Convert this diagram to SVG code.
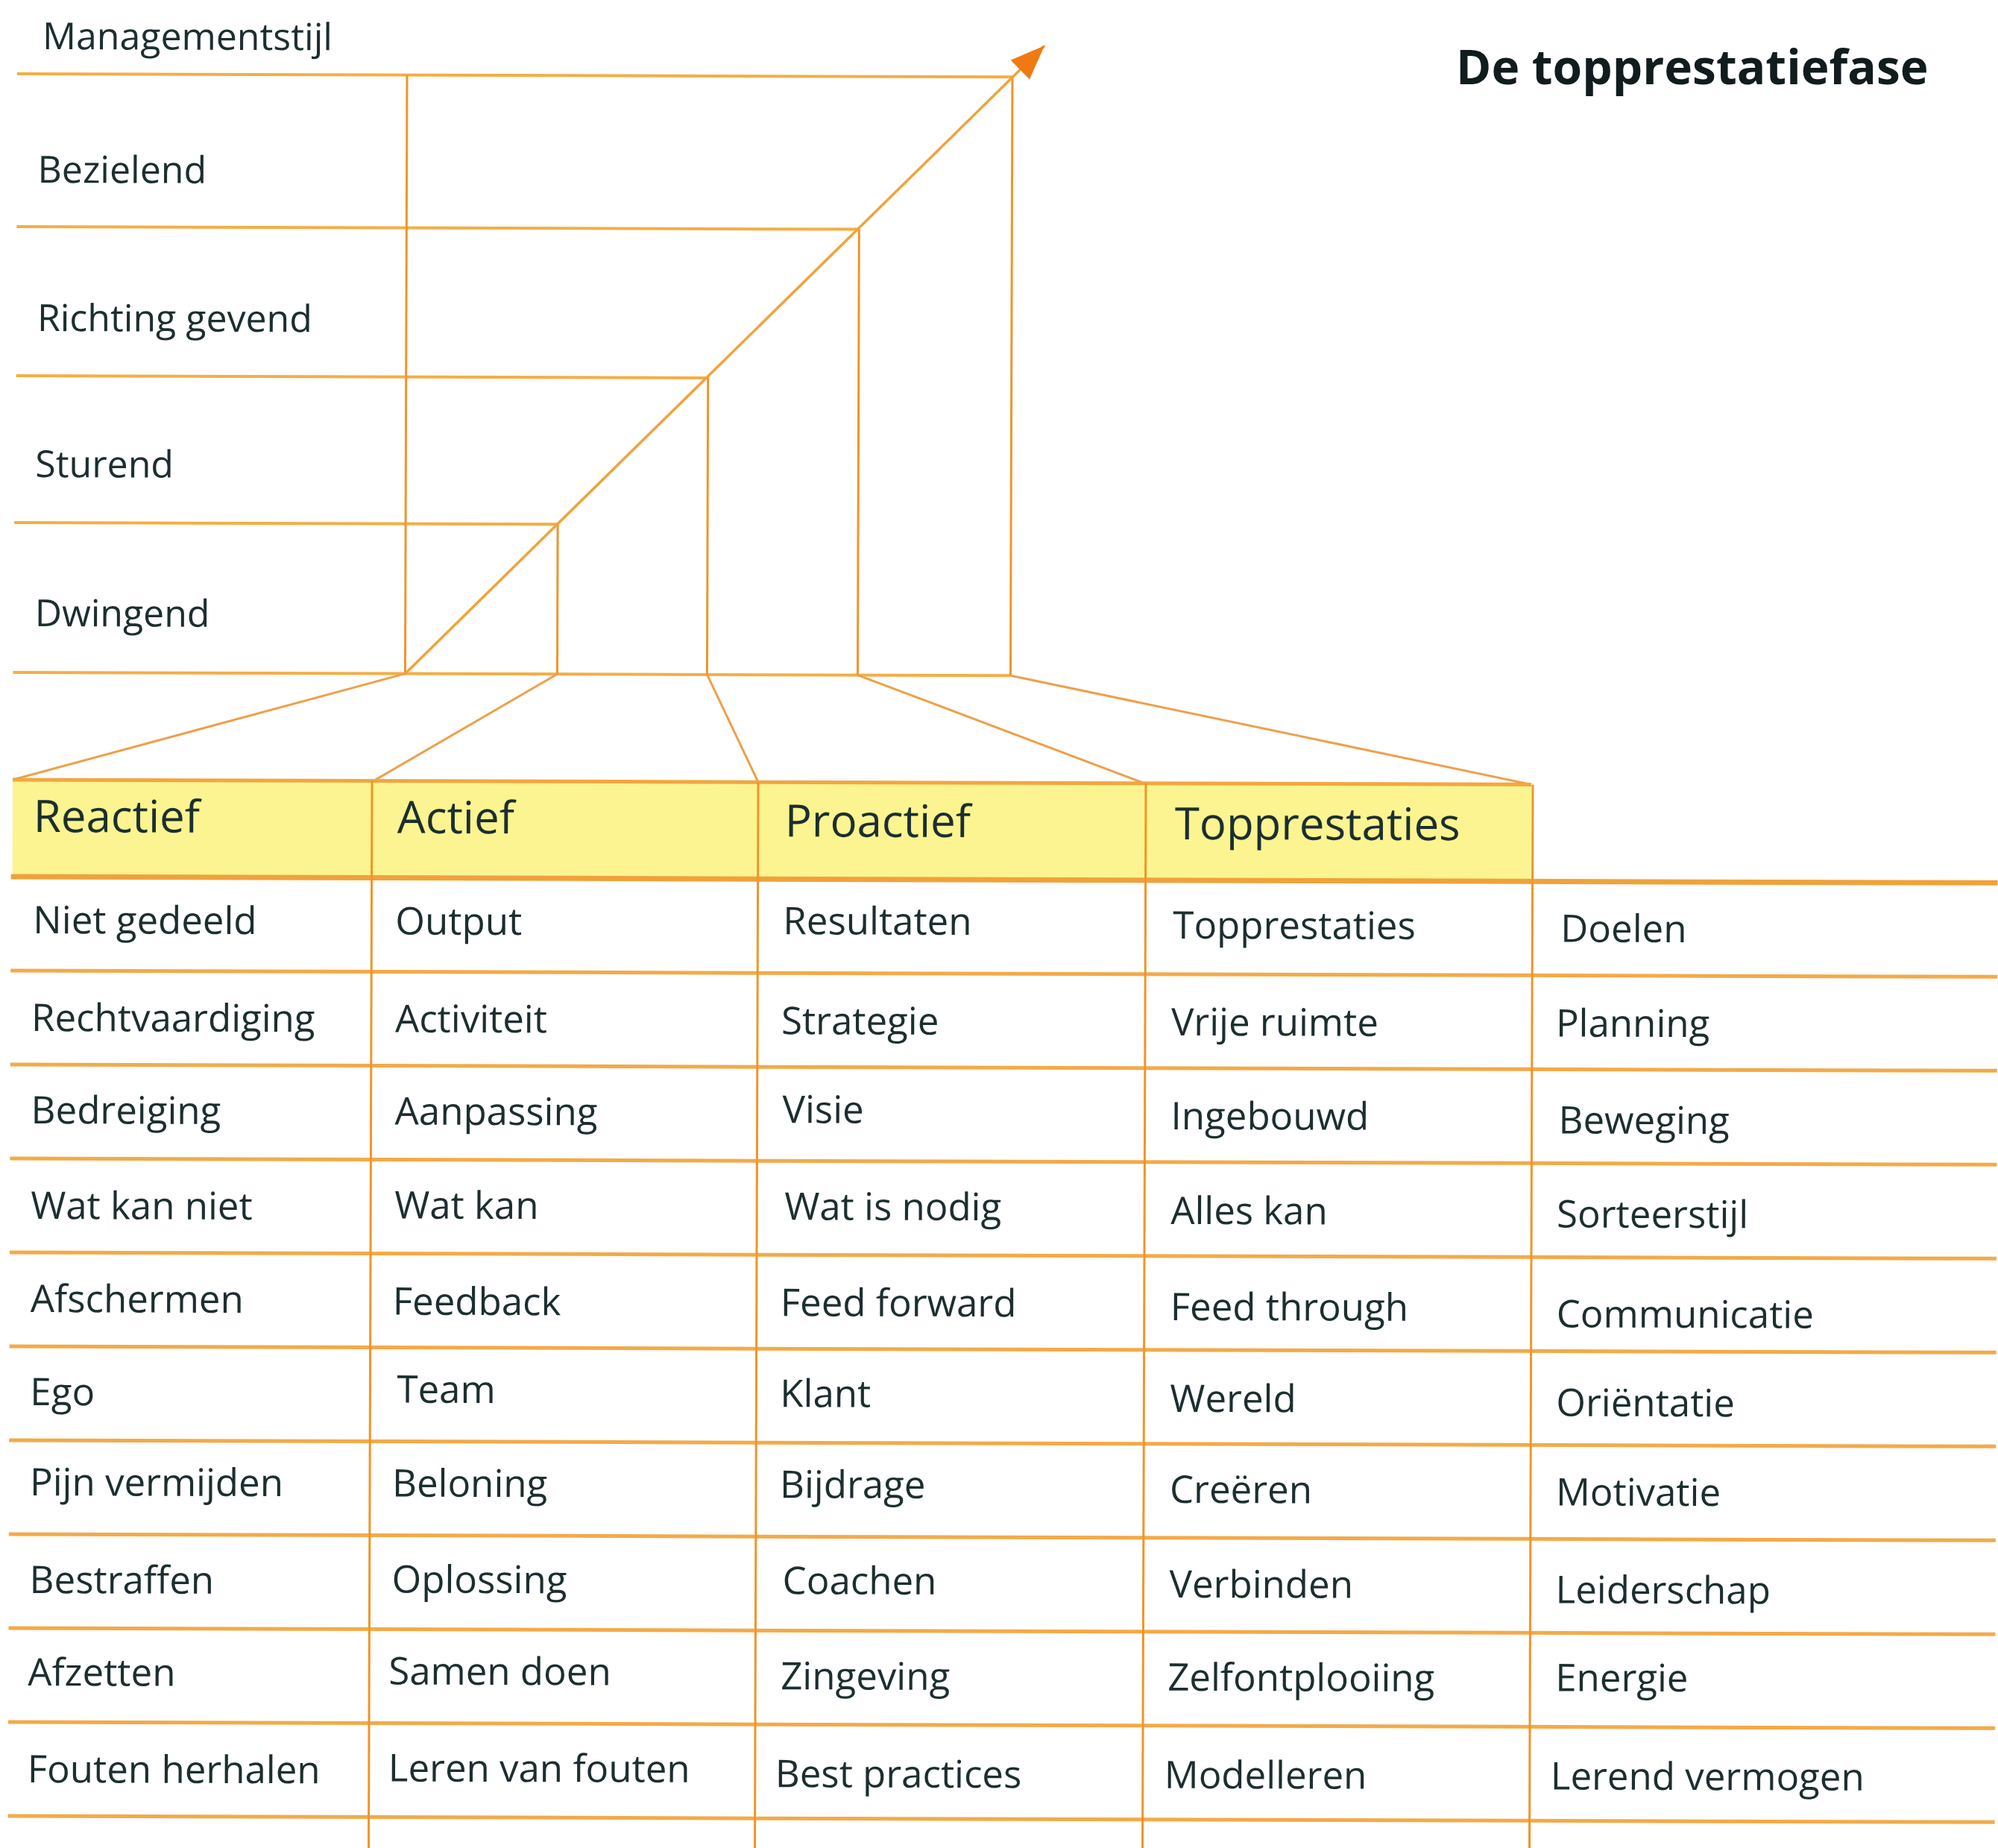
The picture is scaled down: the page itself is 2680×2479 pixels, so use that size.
<svg xmlns="http://www.w3.org/2000/svg" width="2680" height="2479" viewBox="0 0 2680 2479">
<style>
.lbl{font-family:"Open Sans","Noto Sans","DejaVu Sans",sans-serif;font-size:51px;fill:#1c2e30}
.side{font-family:"Open Sans","Noto Sans","DejaVu Sans",sans-serif;font-size:50px;fill:#1c2e30}
.hdr{font-family:"Open Sans","Noto Sans","DejaVu Sans",sans-serif;font-size:60px;fill:#1c2e30}
.ttl{font-family:"Open Sans","Noto Sans","DejaVu Sans",sans-serif;font-size:64px;font-weight:bold;fill:#111c1e}
.hl{stroke:#f4ae45;stroke-width:4;fill:none}
.vl{stroke:#f0952a;stroke-width:3;fill:none}
.rl{stroke:#f3aa48;stroke-width:5;fill:none}
.fan{stroke:#eea04a;stroke-width:3;fill:none}
</style>
<defs>
<marker id="ah" markerUnits="userSpaceOnUse" markerWidth="50" markerHeight="40" refX="46" refY="18" orient="auto">
<path d="M0,0 L46,18 L0,36 Z" fill="#f07a12"/>
</marker>
</defs>
<rect width="2680" height="2479" fill="#ffffff"/>
<g id="title"><text class="ttl" x="1953" y="113">De topprestatiefase</text></g>
<g transform="rotate(0.18 17 1046)">
<rect id="header-band" x="17" y="1046" width="2037" height="130" fill="#fbf490"/>
<g id="connectors">
<line class="hl" x1="20" y1="99" x2="1355" y2="99"/>
<line class="hl" x1="20" y1="304" x2="1150" y2="304"/>
<line class="hl" x1="20" y1="504" x2="948" y2="504"/>
<line class="hl" x1="18" y1="701" x2="747" y2="701"/>
<line class="hl" x1="17" y1="902" x2="1355" y2="902"/>
<line class="vl" x1="543" y1="99" x2="543" y2="902"/>
<line class="vl" x1="747" y1="701" x2="747" y2="902"/>
<line class="vl" x1="948" y1="504" x2="948" y2="902"/>
<line class="vl" x1="1150" y1="304" x2="1150" y2="902"/>
<line class="vl" x1="1355" y1="99" x2="1355" y2="902"/>
<line stroke="#f2a23a" stroke-width="3.5" x1="543" y1="902" x2="1398" y2="57" marker-end="url(#ah)"/>
<line class="fan" x1="543" y1="902" x2="17" y2="1046"/>
<line class="fan" x1="747" y1="902" x2="501" y2="1046"/>
<line class="fan" x1="948" y1="902" x2="1017" y2="1046"/>
<line class="fan" x1="1150" y1="902" x2="1535" y2="1046"/>
<line class="fan" x1="1355" y1="902" x2="2054" y2="1046"/>
<line stroke="#f2a640" stroke-width="5" x1="17" y1="1046" x2="2054" y2="1046"/>
<line stroke="#f0a23a" stroke-width="7" x1="15" y1="1176" x2="2680" y2="1176"/>
<line class="rl" x1="15" y1="1302" x2="2680" y2="1302"/>
<line class="rl" x1="15" y1="1428" x2="2680" y2="1428"/>
<line class="rl" x1="15" y1="1554" x2="2680" y2="1554"/>
<line class="rl" x1="15" y1="1680" x2="2680" y2="1680"/>
<line class="rl" x1="15" y1="1806" x2="2680" y2="1806"/>
<line class="rl" x1="15" y1="1932" x2="2680" y2="1932"/>
<line class="rl" x1="15" y1="2058" x2="2680" y2="2058"/>
<line class="rl" x1="15" y1="2184" x2="2680" y2="2184"/>
<line class="rl" x1="15" y1="2310" x2="2680" y2="2310"/>
<line class="rl" x1="15" y1="2436" x2="2680" y2="2436"/>
<line class="vl" x1="499" y1="1046" x2="499" y2="2490"/>
<line class="vl" x1="1017" y1="1046" x2="1017" y2="2490"/>
<line class="vl" x1="1537" y1="1046" x2="1537" y2="2490"/>
<line class="vl" x1="2056" y1="1046" x2="2056" y2="2490"/>
</g>
<g id="style-labels">
<g id="lbl-managementstijl"><text class="side" x="54" y="66">Managementstijl</text></g>
<g id="lbl-bezielend"><text class="side" x="48" y="245">Bezielend</text></g>
<g id="lbl-richting"><text class="side" x="48" y="444">Richting gevend</text></g>
<g id="lbl-sturend"><text class="side" x="46" y="640">Sturend</text></g>
<g id="lbl-dwingend"><text class="side" x="46" y="840">Dwingend</text></g>
</g>
<g id="headers">
<g id="hdr-reactief"><text class="hdr" x="45" y="1116">Reactief</text></g>
<g id="hdr-actief"><text class="hdr" x="533" y="1116">Actief</text></g>
<g id="hdr-proactief"><text class="hdr" x="1053" y="1119">Proactief</text></g>
<g id="hdr-topprestaties"><text class="hdr" x="1576" y="1121">Topprestaties</text></g>
</g>
<g id="col1">
<g id="c1r1"><text class="lbl" x="45" y="1252">Niet gedeeld</text></g>
<g id="c1r2"><text class="lbl" x="43" y="1383">Rechtvaardiging</text></g>
<g id="c1r3"><text class="lbl" x="43" y="1507">Bedreiging</text></g>
<g id="c1r4"><text class="lbl" x="43" y="1635">Wat kan niet</text></g>
<g id="c1r5"><text class="lbl" x="43" y="1760">Afschermen</text></g>
<g id="c1r6"><text class="lbl" x="43" y="1885">Ego</text></g>
<g id="c1r7"><text class="lbl" x="43" y="2006">Pijn vermijden</text></g>
<g id="c1r8"><text class="lbl" x="43" y="2137">Bestraffen</text></g>
<g id="c1r9"><text class="lbl" x="41" y="2261">Afzetten</text></g>
<g id="c1r10"><text class="lbl" x="41" y="2391">Fouten herhalen</text></g>
</g>
<g id="col2">
<g id="c2r1"><text class="lbl" x="531" y="1252">Output</text></g>
<g id="c2r2"><text class="lbl" x="531" y="1383">Activiteit</text></g>
<g id="c2r3"><text class="lbl" x="531" y="1507">Aanpassing</text></g>
<g id="c2r4"><text class="lbl" x="531" y="1633">Wat kan</text></g>
<g id="c2r5"><text class="lbl" x="529" y="1762">Feedback</text></g>
<g id="c2r6"><text class="lbl" x="535" y="1880">Team</text></g>
<g id="c2r7"><text class="lbl" x="529" y="2006">Beloning</text></g>
<g id="c2r8"><text class="lbl" x="529" y="2135">Oplossing</text></g>
<g id="c2r9"><text class="lbl" x="525" y="2258">Samen doen</text></g>
<g id="c2r10"><text class="lbl" x="525" y="2388">Leren van fouten</text></g>
</g>
<g id="col3">
<g id="c3r1"><text class="lbl" x="1051" y="1250">Resultaten</text></g>
<g id="c3r2"><text class="lbl" x="1049" y="1384">Strategie</text></g>
<g id="c3r3"><text class="lbl" x="1051" y="1503">Visie</text></g>
<g id="c3r4"><text class="lbl" x="1054" y="1633">Wat is nodig</text></g>
<g id="c3r5"><text class="lbl" x="1049" y="1762">Feed forward</text></g>
<g id="c3r6"><text class="lbl" x="1049" y="1884">Klant</text></g>
<g id="c3r7"><text class="lbl" x="1049" y="2006">Bijdrage</text></g>
<g id="c3r8"><text class="lbl" x="1053" y="2135">Coachen</text></g>
<g id="c3r9"><text class="lbl" x="1051" y="2263">Zingeving</text></g>
<g id="c3r10"><text class="lbl" x="1044" y="2394">Best practices</text></g>
</g>
<g id="col4">
<g id="c4r1"><text class="lbl" x="1574" y="1254">Topprestaties</text></g>
<g id="c4r2"><text class="lbl" x="1572" y="1384">Vrije ruimte</text></g>
<g id="c4r3"><text class="lbl" x="1572" y="1510">Ingebouwd</text></g>
<g id="c4r4"><text class="lbl" x="1572" y="1637">Alles kan</text></g>
<g id="c4r5"><text class="lbl" x="1572" y="1766">Feed through</text></g>
<g id="c4r6"><text class="lbl" x="1572" y="1889">Wereld</text></g>
<g id="c4r7"><text class="lbl" x="1572" y="2011">Creëren</text></g>
<g id="c4r8"><text class="lbl" x="1572" y="2138">Verbinden</text></g>
<g id="c4r9"><text class="lbl" x="1570" y="2263">Zelfontplooiing</text></g>
<g id="c4r10"><text class="lbl" x="1566" y="2394">Modelleren</text></g>
</g>
<g id="col5">
<g id="c5r1"><text class="lbl" x="2094" y="1257">Doelen</text></g>
<g id="c5r2"><text class="lbl" x="2088" y="1384">Planning</text></g>
<g id="c5r3"><text class="lbl" x="2092" y="1514">Beweging</text></g>
<g id="c5r4"><text class="lbl" x="2090" y="1640">Sorteerstijl</text></g>
<g id="c5r5"><text class="lbl" x="2090" y="1774">Communicatie</text></g>
<g id="c5r6"><text class="lbl" x="2090" y="1893">Oriëntatie</text></g>
<g id="c5r7"><text class="lbl" x="2090" y="2013">Motivatie</text></g>
<g id="c5r8"><text class="lbl" x="2090" y="2144">Leiderschap</text></g>
<g id="c5r9"><text class="lbl" x="2090" y="2262">Energie</text></g>
<g id="c5r10"><text class="lbl" x="2084" y="2394">Lerend vermogen</text></g>
</g>
</g>
</svg>
